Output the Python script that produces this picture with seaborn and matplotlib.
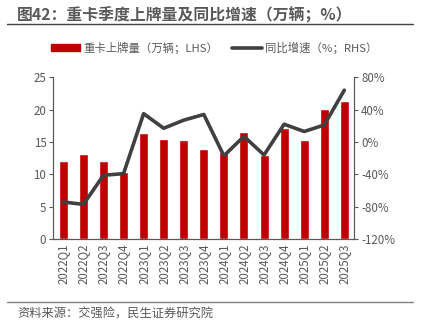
import numpy as np
import pandas as pd
import matplotlib
matplotlib.use("Agg")
import matplotlib.pyplot as plt
import seaborn as sns
from matplotlib.patches import Patch
from matplotlib.lines import Line2D

quarters = ["2022Q1", "2022Q2", "2022Q3", "2022Q4", "2023Q1", "2023Q2", "2023Q3", "2023Q4",
            "2024Q1", "2024Q2", "2024Q3", "2024Q4", "2025Q1", "2025Q2", "2025Q3"]
registrations = [12.0, 13.2, 12.1, 10.4, 16.4, 15.4, 15.3, 14.0,
                 13.4, 16.6, 13.0, 17.1, 15.3, 20.1, 21.3]
yoy_growth = [-74, -77, -41, -39, 35, 17, 27, 34,
              -17, 7, -16, 22, 13, 21, 64]
left_ticks = [0, 5, 10, 15, 20, 25]
right_ticks = [-120, -80, -40, 0, 40, 80]

sns.set_theme(style="white")
plt.rcParams['font.family'] = ['Noto Sans CJK SC', 'DejaVu Sans']
plt.rcParams['axes.unicode_minus'] = False

GRAY = "#595959"
RED = "#C00000"
LINE = "#404040"

df = pd.DataFrame({"q": quarters, "reg": registrations, "yoy": yoy_growth})
df["pos"] = np.arange(len(df))

fig = plt.figure(figsize=(4.24, 3.30), dpi=100)
ax = fig.add_axes([0.1257, 0.275, 0.71, 0.491])

sns.barplot(data=df, x="q", y="reg", color=RED, width=0.45, saturation=1, ax=ax, zorder=2)
ax.set_xlim(-0.5, len(quarters) - 0.5)
ax.set_ylim(0, 25)
ax.set_yticks(left_ticks)
ax.set_yticklabels([str(t) for t in left_ticks], fontsize=8.3, color=GRAY)
ax.set_xticks(range(len(quarters)))
ax.set_xticklabels(quarters, rotation=90, fontsize=8.3, color=GRAY)
ax.tick_params(axis="x", which="major", length=0, pad=3)
ax.set_xticks(np.arange(-0.5, len(quarters), 1.0), minor=True)
ax.tick_params(axis="x", which="minor", length=3, color=GRAY, width=0.8, direction="out")
ax.tick_params(axis="y", length=3, color=GRAY, width=0.8, direction="out", left=True, pad=2)
ax.set_xlabel("")
ax.set_ylabel("")

ax2 = ax.twinx()
sns.lineplot(data=df, x="pos", y="yoy", color=LINE, linewidth=2.6, ax=ax2, zorder=3)
ax2.set_ylim(-120, 80)
ax2.set_yticks(right_ticks)
ax2.set_yticklabels([f"{t}%" for t in right_ticks], fontsize=8.3, color=GRAY)
ax2.tick_params(axis="y", length=3, color=GRAY, width=0.8, direction="out", right=True, pad=2)
ax2.set_ylabel("")
ax2.set_xlabel("")
ax2.set_xlim(-0.5, len(quarters) - 0.5)

for a in (ax, ax2):
    a.spines["top"].set_visible(False)
    for s in ("left", "right", "bottom"):
        a.spines[s].set_color(GRAY)
        a.spines[s].set_linewidth(0.8)
    a.grid(False)

# Title
fig.text(0.04, 0.955, "图42：重卡季度上牌量及同比增速（万辆；%）", fontsize=11.4, fontweight="bold",
         color=GRAY, ha="left", va="center")
fig.add_artist(plt.Line2D([0.017, 0.975], [1 - 24/330, 1 - 24/330], color="#404040", linewidth=1.0))

# Legend
handles = [Patch(color=RED), Line2D([0], [0], color=LINE, linewidth=2.6)]
labels = ["重卡上牌量（万辆；LHS）", "同比增速（%；RHS）"]
fig.legend(handles, labels, loc="center", bbox_to_anchor=(0.505, 1 - 47.5/330), ncol=2, frameon=False,
           fontsize=8.2, labelcolor=GRAY, handlelength=2.6, handleheight=0.45, columnspacing=1.2,
           handletextpad=0.3)

# Footer
fig.add_artist(plt.Line2D([0.017, 0.975], [1 - 302/330, 1 - 302/330], color="#808080", linewidth=1.0))
fig.text(0.04, 1 - 314/330, "资料来源：交强险，民生证券研究院", fontsize=8.8, color=GRAY, ha="left", va="center")

fig.savefig("out.png", dpi=100)
